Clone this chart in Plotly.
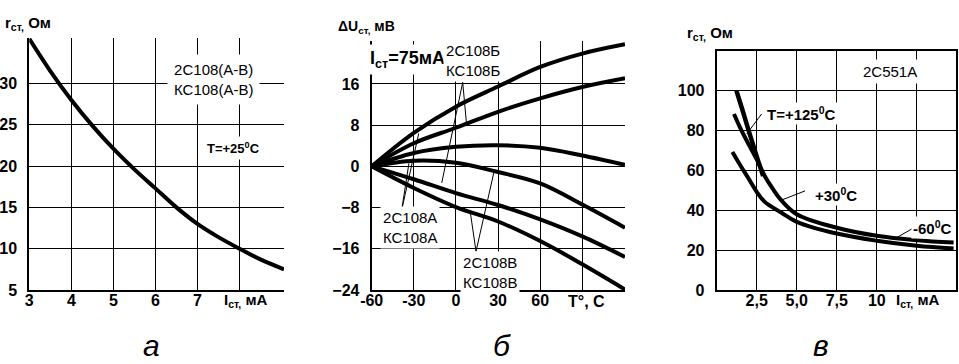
import plotly.graph_objects as go

# ---------------- data ----------------
# panel a: r_st vs I_st (2C108, KC108), T=+25C
a_I = [3.0, 3.5, 4.0, 4.5, 5.0, 5.5, 6.0, 6.5, 7.0, 7.5, 8.0, 8.5, 9.06]
a_r = [35.4, 31.5, 28.0, 24.9, 22.1, 19.6, 17.3, 15.0, 13.0, 11.4, 10.0, 8.7, 7.5]
a_xticks = [3, 4, 5, 6, 7, 8]
a_xticktext = ["3", "4", "5", "6", "7", ""]
a_yticks = [5, 10, 15, 20, 25, 30]

# panel b: dU_st vs T
b_T = [-60, -30, 0, 30, 60, 90, 120.4]
b_c1 = [0, 6.5, 11.6, 15.5, 19.3, 21.9, 23.7]
b_c2 = [0, 4.5, 7.5, 10.6, 13.2, 15.4, 17.1]
b_c3 = [0, 2.6, 3.8, 4.1, 3.6, 2.1, 0.3]
b_c4 = [0, 1.1, 0.7, -1.1, -3.3, -7.4, -11.9]
b_c5 = [0, -2.5, -5.2, -7.5, -10.3, -13.6, -17.6]
b_c6 = [0, -4.2, -7.9, -10.7, -14.5, -19.0, -23.9]
b_xticks = [-60, -30, 0, 30, 60, 90]
b_xticktext = ["-60", "-30", "0", "30", "60", ""]
b_yticks = [-24, -16, -8, 0, 8, 16]

# panel c: r_st vs I_st (2C551A)
c_I_125 = [1.23, 1.6, 2.06, 2.5, 2.9]
c_r_125 = [100, 90.5, 78.3, 67.0, 57.2]
c_I_30 = [1.08, 1.5, 2.0, 2.5, 3.0, 3.5, 4.0, 5.0, 7.5, 10.0, 12.5, 14.8]
c_r_30 = [88.3, 80.8, 73.0, 65.5, 57.2, 50.8, 45.3, 38.0, 31.2, 27.2, 25.0, 23.8]
c_I_m60 = [0.98, 1.5, 2.0, 2.5, 3.0, 4.0, 5.0, 7.5, 10.0, 12.5, 14.8]
c_r_m60 = [69.2, 62.2, 55.8, 49.2, 44.2, 39.0, 34.2, 28.3, 24.7, 22.2, 20.8]
c_xticks = [2.5, 5.0, 7.5, 10.0, 12.5]
c_xticktext = ["2,5", "5,0", "7,5", "10", ""]
c_yticks = [0, 20, 40, 60, 80, 100]

# ---------------- layout helpers ----------------
W, H = 959, 364
def fx(x):
    return x / W
def fy(y):
    return 1 - y / H

FONT = "Liberation Sans, Arial, sans-serif"
BLK = "black"
LW = 4

fig = go.Figure()

def curve(x, y, xa, ya, w=LW):
    fig.add_trace(go.Scatter(x=x, y=y, xaxis=xa, yaxis=ya, mode="lines",
                             line=dict(color=BLK, width=w, shape="spline", smoothing=1.0),
                             hoverinfo="skip", showlegend=False))

curve(a_I, a_r, "x", "y")
for c in (b_c1, b_c2, b_c3, b_c4, b_c5, b_c6):
    curve(b_T, c, "x2", "y2")
curve(c_I_125, c_r_125, "x3", "y3", 4.5)
curve(c_I_30, c_r_30, "x3", "y3")
curve(c_I_m60, c_r_m60, "x3", "y3")

tickfont = dict(family=FONT, size=16, color=BLK, weight="bold")

def xaxis(dom, rng, tv, tt, anchor, mirror=False):
    return dict(domain=dom, range=rng, tickvals=tv, ticktext=tt, anchor=anchor,
                showgrid=True, gridcolor=BLK, gridwidth=1, showline=True, linecolor=BLK,
                linewidth=2, mirror=mirror, ticks="", zeroline=False, tickfont=tickfont,
                ticklabelstandoff=-5, fixedrange=True, automargin=False)

def yaxis(dom, rng, tv, anchor, mirror=False):
    return dict(domain=dom, range=rng, tickvals=tv, anchor=anchor,
                showgrid=True, gridcolor=BLK, gridwidth=1, showline=True, linecolor=BLK,
                linewidth=2, mirror=mirror, ticks="", zeroline=False, tickfont=tickfont,
                ticklabelstandoff=7, fixedrange=True, automargin=False)

fig.update_layout(
    width=W, height=H, autosize=False,
    margin=dict(l=0, r=0, t=0, b=0, pad=0),
    paper_bgcolor="white", plot_bgcolor="white",
    xaxis=xaxis([fx(29.3), fx(284)], [3, 9.06], a_xticks, a_xticktext, "y"),
    yaxis=yaxis([fy(290), fy(38)], [5, 35.5], a_yticks, "x"),
    xaxis2=xaxis([fx(371.7), fx(625)], [-60, 120.4], b_xticks, b_xticktext, "y2"),
    yaxis2=yaxis([fy(290), fy(40.7)], [-24, 24.4], b_yticks, "x2"),
    xaxis3=xaxis([fx(716.7), fx(956)], [0, 14.95], c_xticks, c_xticktext, "y3", True),
    yaxis3=yaxis([fy(290), fy(50.7)], [0, 120], c_yticks, "x3", True),
)

anns = []
def ptext(x, y, text, size=16, xanchor="center", bold=True, bg=None, italic=False, pad=1):
    d = dict(xref="paper", yref="paper", x=fx(x), y=fy(y), text=text, showarrow=False,
             xanchor=xanchor, yanchor="middle", align="center", borderpad=pad,
             font=dict(family=FONT, size=size, color=BLK, weight="bold" if bold else "normal"))
    if bg:
        d["bgcolor"] = bg
    if italic:
        d["font"] = dict(family=FONT, size=size, color=BLK, style="italic")
    anns.append(d)

# axis titles
ptext(3, 24, "r<sub>ст,</sub> Ом", 15, "left")
ptext(222, 300, "I<sub>ст,</sub> мА", 15, "left")
ptext(336, 27, "ΔU<sub>ст,</sub> мВ", 14, "left")
ptext(566, 301, "T°, С", 16, "left")
ptext(685, 33, "r<sub>ст,</sub> Ом", 15, "left")
ptext(894, 300, "I<sub>ст,</sub> мА", 15, "left")

# panel labels inside plots
ptext(213, 79, "2С108(А-В)<br>КС108(А-В)", 15, bold=False, bg="white", pad=6)
ptext(233, 148, "Т=+25<sup>0</sup>С", 13, bg="white", pad=3)
ptext(407, 60, "I<sub>ст</sub>=75мА", 18, bg="white", pad=3)
ptext(473, 61, "2С108Б<br>КС108Б", 15, bold=False, bg="white", pad=2)
ptext(410, 227, "2С108А<br>КС108А", 15, bold=False, bg="white", pad=2)
ptext(490, 272, "2С108В<br>КС108В", 15, bold=False, bg="white", pad=2)
ptext(890, 72, "2С551А", 15, bold=False, bg="white", pad=3)
ptext(765, 113, "Т=+125<sup>0</sup>С", 15, "left", bg="white", pad=1)
ptext(813, 194, "+30<sup>0</sup>С", 15, "left", bg="white", pad=1)
ptext(911, 227, "-60<sup>0</sup>С", 15, "left", bg="white", pad=1)

# captions
ptext(151, 345, "а", 30, italic=True)
ptext(502, 345, "б", 30, italic=True)
ptext(821, 345, "в", 30, italic=True)

fig.update_layout(annotations=anns)

# pointer lines (data coordinates)
def pline(xr, yr, x0, y0, x1, y1):
    fig.add_shape(type="line", xref=xr, yref=yr, x0=x0, y0=y0, x1=x1, y1=y1,
                  line=dict(color=BLK, width=1))

# panel b
pline("x2", "y2", 4.8, 16.3, -10.1, -3.2)
pline("x2", "y2", 4.8, 16.3, 7.7, 7.8)
pline("x2", "y2", -38.6, -8.4, -33.5, 0.6)
pline("x2", "y2", -38.6, -8.4, -26.5, 6.4)
pline("x2", "y2", 14.3, -16.5, 27.5, -0.6)
pline("x2", "y2", 14.3, -16.5, 10.0, -8.5)
# panel c
pline("x3", "y3", 2.81, 88.3, 1.88, 78.3)
pline("x3", "y3", 5.52, 49.7, 3.96, 44.8)
pline("x3", "y3", 12.27, 31.0, 11.25, 26.3)

# remove the page's default 8px body margin so the figure sits at the window origin
fig.write_html("out.html", config={"displayModeBar": False, "staticPlot": True},
               post_script="document.body.style.margin='0';document.body.style.overflow='hidden';")
